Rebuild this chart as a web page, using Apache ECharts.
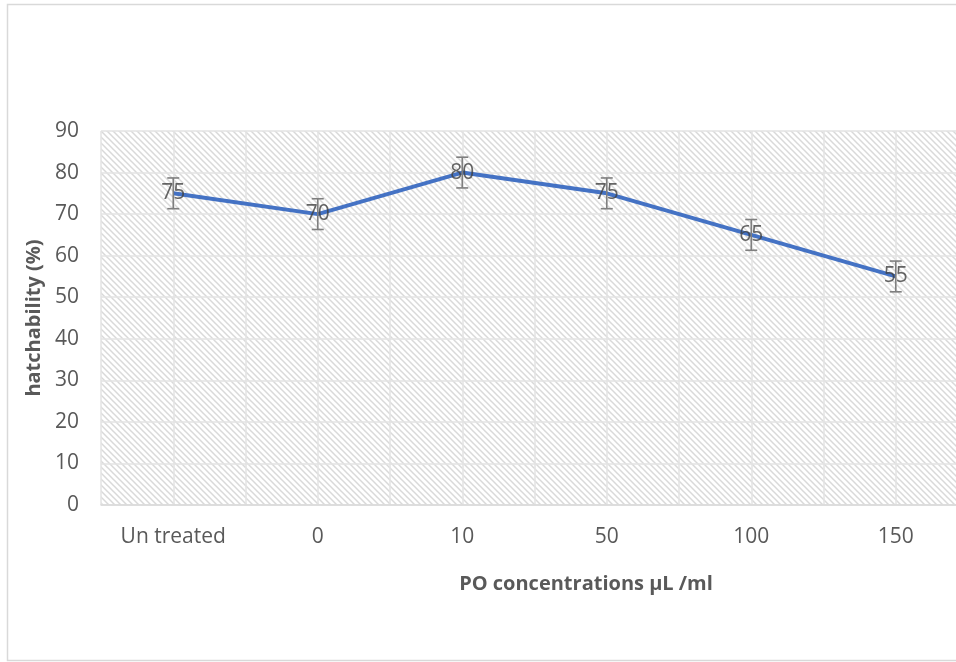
<!DOCTYPE html>
<html>
<head>
<meta charset="utf-8">
<script src="https://cdn.jsdelivr.net/npm/echarts@6/dist/echarts.min.js"></script>
<style>
html,body{margin:0;padding:0;background:#fff;overflow:hidden;width:956px;height:662px;}
#chart{width:980px;height:662px;}
</style>
</head>
<body>
<div id="chart"></div>
<script>
var categories = ['Un treated', '0', '10', '50', '100', '150'];
var hatchability = [75, 70, 80, 75, 65, 55];
var errors = [3.7, 3.7, 3.7, 3.7, 3.7, 3.7];
var yTicks = [0, 10, 20, 30, 40, 50, 60, 70, 80, 90];
var halfSlots = ['a','b','c','d','e','f','g','h','i','j','k','l','m'];

var pc = document.createElement('canvas');
pc.width = 6; pc.height = 6;
var g = pc.getContext('2d');
g.fillStyle = '#ffffff';
g.fillRect(0, 0, 6, 6);
g.strokeStyle = '#d9d9d9';
g.lineWidth = 1.5;
g.beginPath();
for (var k = -2; k <= 2; k++) {
  g.moveTo(k * 6 - 1, -1);
  g.lineTo(k * 6 + 7, 7);
}
g.stroke();

var chart = echarts.init(document.getElementById('chart'));
var font = '"Open Sans", sans-serif';
chart.setOption({
  animation: false,
  backgroundColor: '#fff',
  graphic: [
    { type: 'rect', shape: { x: 7.5, y: 4.5, width: 1000, height: 656 },
      style: { fill: 'none', stroke: '#d9d9d9', lineWidth: 1.5 }, z: -10 },
    { type: 'text', x: 586, y: 584,
      style: { text: 'PO concentrations µL /ml', font: 'bold 20px ' + font, fill: '#595959',
               textAlign: 'center', textVerticalAlign: 'middle' } }
  ],
  grid: { left: 101, right: 12, top: 131, bottom: 157, show: true,
          backgroundColor: { image: pc, repeat: 'repeat' }, borderWidth: 0 },
  xAxis: [{
    type: 'category', data: categories,
    axisLine: { lineStyle: { color: '#d9d9d9', width: 1.5 } },
    axisTick: { show: false },
    axisLabel: { color: '#595959', fontSize: 21, fontFamily: font, margin: 22 },
    splitLine: { show: false }
  }, {
    type: 'category', data: halfSlots, position: 'bottom', boundaryGap: false,
    show: true,
    axisLine: { show: false }, axisTick: { show: false }, axisLabel: { show: false },
    splitLine: { show: true, lineStyle: { color: '#e3e3e3', width: 1.5 } }
  }],
  yAxis: {
    type: 'value', min: yTicks[0], max: yTicks[yTicks.length - 1], interval: 10,
    name: 'hatchability (%)', nameLocation: 'middle', nameGap: 57,
    nameTextStyle: { color: '#595959', fontSize: 20, fontWeight: 'bold', fontFamily: font },
    axisLine: { show: false }, axisTick: { show: false },
    axisLabel: { color: '#595959', fontSize: 21, fontFamily: font, margin: 22 },
    splitLine: { lineStyle: { color: '#e3e3e3', width: 1.5 } }
  },
  series: [{
    type: 'line', data: hatchability, xAxisIndex: 0,
    symbol: 'none',
    lineStyle: { color: '#4472C4', width: 4 },
    label: { show: false }, z: 3
  }, {
    type: 'custom', xAxisIndex: 0, z: 4,
    data: hatchability.map(function (v, i) { return [i, v - errors[i], v + errors[i]]; }),
    renderItem: function (params, api) {
      var lo = api.coord([api.value(0), api.value(1)]);
      var hi = api.coord([api.value(0), api.value(2)]);
      var s = { stroke: '#7f7f7f', lineWidth: 1.6 };
      return { type: 'group', children: [
        { type: 'line', shape: { x1: hi[0], y1: hi[1], x2: lo[0], y2: lo[1] }, style: s },
        { type: 'line', shape: { x1: hi[0] - 6, y1: hi[1], x2: hi[0] + 6, y2: hi[1] }, style: s },
        { type: 'line', shape: { x1: lo[0] - 6, y1: lo[1], x2: lo[0] + 6, y2: lo[1] }, style: s }
      ]};
    }
  }, {
    type: 'scatter', data: hatchability, xAxisIndex: 0, symbolSize: 0, z: 5,
    label: { show: true, position: 'inside', color: '#404040', fontSize: 21, fontFamily: font }
  }]
});
</script>
</body>
</html>
